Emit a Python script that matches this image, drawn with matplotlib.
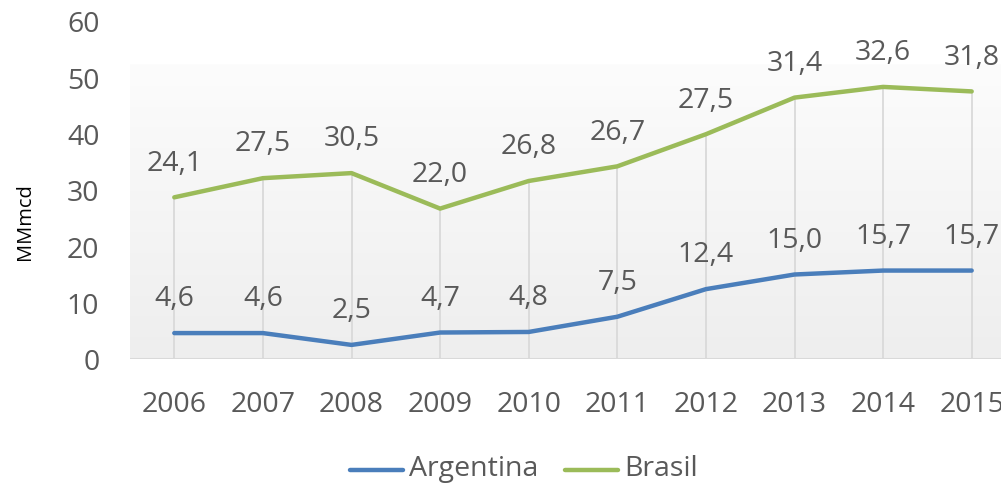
import numpy as np
import matplotlib.pyplot as plt
from matplotlib.colors import LinearSegmentedColormap
from matplotlib.lines import Line2D

# data
years = ["2006", "2007", "2008", "2009", "2010", "2011", "2012", "2013", "2014", "2015"]
argentina = [4.6, 4.6, 2.5, 4.7, 4.8, 7.5, 12.4, 15.0, 15.7, 15.7]
brasil = [24.1, 27.5, 30.5, 22.0, 26.8, 26.7, 27.5, 31.4, 32.6, 31.8]
series_names = ["Argentina", "Brasil"]

plt.rcParams['font.family'] = ['Open Sans', 'DejaVu Sans']

W, H = 1001, 485
fig = plt.figure(figsize=(W / 100, H / 100), dpi=100)
# axes box in pixels: left 130, right 1016 (clipped), top 22, bottom 360
ax = fig.add_axes([130 / W, 1 - 360 / H, (1016 - 130) / W, (360 - 22) / H])

x = np.arange(len(years))
arg = np.array(argentina)
stack = arg + np.array(brasil)   # stacked line chart

# gradient plot-area background
cmap = LinearSegmentedColormap.from_list("bg", ["#fcfcfc", "#eeeeee"])
grad = np.linspace(0, 1, 256).reshape(-1, 1)
ax.imshow(grad, cmap=cmap, aspect="auto", extent=(-0.5, 9.5, 0, 52.2),
          origin="upper", zorder=0)

# drop lines
ax.vlines(x, 0, stack, color="#d9d9d9", lw=1.3, zorder=1)
ax.axhline(0, color="#d9d9d9", lw=1.5, zorder=1)

blue, green = "#4a7ebb", "#9bbb59"
ax.plot(x, arg, color=blue, lw=3.2, solid_capstyle="round", zorder=3)
ax.plot(x, stack, color=green, lw=3.2, solid_capstyle="round", zorder=3)

txt = "#595959"
fs = 20.5
for xi, a, s, b in zip(x, arg, stack, brasil):
    ax.annotate(f"{a:.1f}".replace(".", ","), (xi, a), xytext=(0, 25),
                textcoords="offset points", ha="center", va="center",
                fontsize=fs, color=txt)
    ax.annotate(f"{b:.1f}".replace(".", ","), (xi, s), xytext=(0, 25),
                textcoords="offset points", ha="center", va="center",
                fontsize=fs, color=txt)

ax.set_xlim(-0.5, 9.5)
ax.set_ylim(0, 60)
ax.set_yticks(range(0, 61, 10))
ax.set_xticks(x)
ax.set_xticklabels(years)
ax.tick_params(axis="both", length=0, labelsize=fs, labelcolor=txt)
ax.tick_params(axis="y", pad=22)
ax.tick_params(axis="x", pad=22)
for sp in ax.spines.values():
    sp.set_visible(False)

fig.text(25 / W, 1 - 222 / H, "MMmcd", rotation=90, ha="center", va="center",
         fontsize=14.5, color="black")

# legend drawn by hand in pixel positions
ly = 1 - 471 / H
for (x0, x1), name, col in zip([(350, 403), (565, 618)], series_names, [blue, green]):
    fig.add_artist(Line2D([x0 / W, x1 / W], [ly, ly], color=col, lw=3.2,
                          solid_capstyle="round", transform=fig.transFigure))
    fig.text((x1 + 6) / W, 1 - 469 / H, name, ha="left", va="center",
             fontsize=fs, color=txt)

fig.savefig("out.png", dpi=100)
